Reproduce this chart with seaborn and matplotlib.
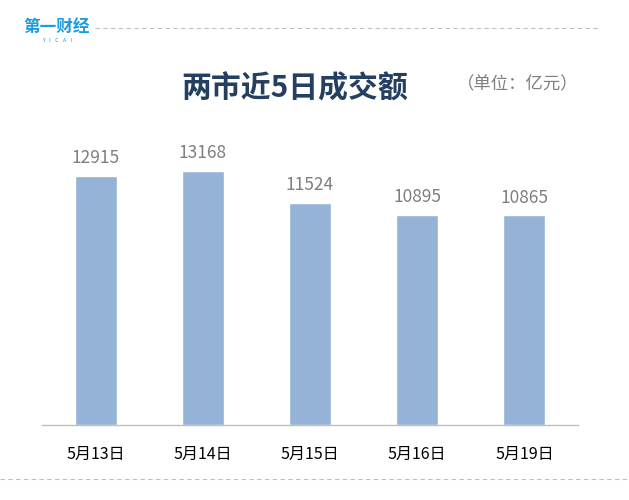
import matplotlib
matplotlib.use("Agg")
import matplotlib.pyplot as plt
import seaborn as sns
import pandas as pd
from matplotlib.lines import Line2D

dates = ["5月13日", "5月14日", "5月15日", "5月16日", "5月19日"]
values = [12915, 13168, 11524, 10895, 10865]

sns.set_theme(style="white")
plt.rcParams['font.family'] = ['Noto Sans CJK SC', 'DejaVu Sans']

fig = plt.figure(figsize=(6.29, 5.0), dpi=100)
ax = fig.add_axes([42/629, 75/500, 536/629, 308.6/500])

df = pd.DataFrame({"date": dates, "value": values})
sns.barplot(data=df, x="date", y="value", color="#95b3d7", saturation=1,
            width=0.39, ax=ax)
ax.set_ylim(0, 16000)
ax.set_xlim(-0.5, len(dates) - 0.5)
ax.set_xlabel("")
ax.set_ylabel("")
ax.set_yticks([])
for s in ["top", "left", "right"]:
    ax.spines[s].set_visible(False)
ax.spines["bottom"].set_color("#bfbfbf")
ax.spines["bottom"].set_linewidth(1.0)
ax.tick_params(axis="x", length=0, pad=15, labelsize=11.5, labelcolor="#000000")

for i, v in enumerate(values):
    ax.text(i, v + 450, str(v), ha="center", va="bottom", fontsize=12.5,
            color="#7f7f7f")

# title and unit
fig.text(295/629, 1 - 88/500, "两市近5日成交额", ha="center", va="center",
         fontsize=21.5, fontweight="bold", color="#243f60")
fig.text(518/629, 1 - 84/500, "（单位：亿元）", ha="center", va="center",
         fontsize=12.5, color="#7f7f7f")

# logo
fig.text(57/629, 1 - 27/500, "第一财经", ha="center", va="center",
         fontsize=12, fontweight="bold", color="#1e9be0")
fig.text(57/629, 1 - 41/500, "Y    I    C    A    I", ha="center", va="center",
         fontsize=3.8, color="#1e9be0")

# dashed lines
fig.add_artist(Line2D([95/629, 598/629], [1 - 28/500, 1 - 28/500],
                      transform=fig.transFigure, color="#c0c0c0",
                      linestyle=(0, (4, 3)), linewidth=0.8))
fig.add_artist(Line2D([0, 1], [1 - 479/500, 1 - 479/500],
                      transform=fig.transFigure, color="#c0c0c0",
                      linestyle=(0, (4, 3)), linewidth=0.8))

fig.savefig("out.png", dpi=100)
